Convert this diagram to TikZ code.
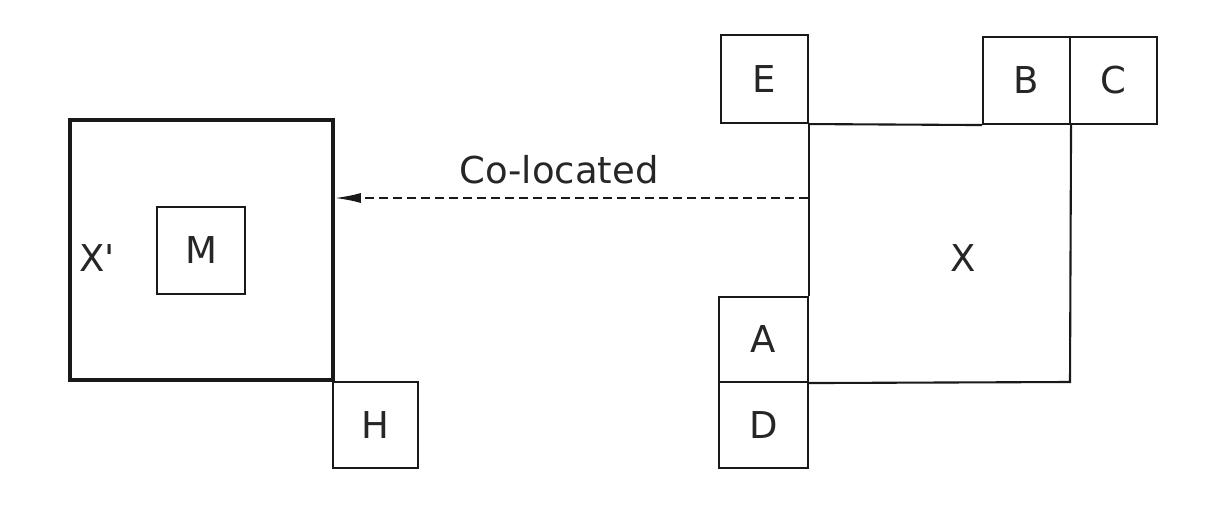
\documentclass[tikz,border=0pt]{standalone}
\usepackage{fontspec}
\setmainfont{DejaVu Sans}
\usetikzlibrary{arrows.meta}
\begin{document}
\begin{tikzpicture}[x=1pt,y=-1pt,
  box/.style={draw=black!90, line width=2.1pt, inner sep=0pt, font=\fontsize{37}{40}\selectfont, text=black!85},
  thin/.style={draw=black!90, line width=2.1pt},
  lbl/.style={inner sep=0pt, font=\fontsize{37}{40}\selectfont, text=black!85}]
\useasboundingbox[fill=white] (0,0) rectangle (1220,513);
% X' region
\node[box, line width=3.6pt, minimum width=263pt, minimum height=260pt] (Xp) at (201.5,250) {};
\node[lbl] (Xplabel) at (97,258) {X\textquotesingle};
\node[box, minimum width=88pt, minimum height=87pt] (M) at (201,250.5) {M};
\node[box, minimum width=85pt, minimum height=86pt] (H) at (375.5,425) {H};
% X region
\node[box, minimum width=87pt, minimum height=88pt] (E) at (764.5,79) {E};
\node[box, minimum width=87pt, minimum height=87pt] (B) at (1026.5,80.5) {B};
\node[box, minimum width=87pt, minimum height=87pt] (C) at (1113.5,80.5) {C};
\node[box, minimum width=89pt, minimum height=85pt] (A) at (763.5,339.5) {A};
\node[box, minimum width=89pt, minimum height=86pt] (D) at (763.5,425) {D};
\node[lbl] (X) at (963,258) {X};
\coordinate (Xbr) at (1070,382);
\draw[thin] (E.south east) -- (B.south west);
\draw[thin] (B.south east) -- (Xbr) -- (A.south east);
\draw[thin] (E.south east) -- (A.north east);
% co-location arrow
\coordinate (src) at (808,198);
\draw[line width=2pt, draw=black!90, dash pattern=on 9pt off 5pt,
  -{Latex[length=26pt,width=10pt,sep=0pt]}] (src) -- (src -| Xp.east);
\node[lbl] (co) at (559,170) {Co-located};
\end{tikzpicture}
\end{document}
